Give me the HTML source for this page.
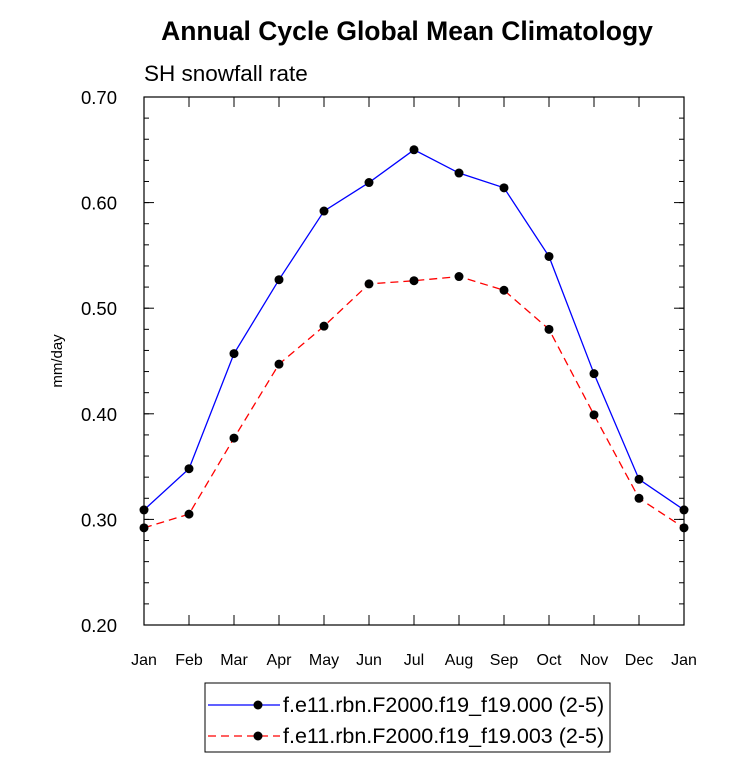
<!DOCTYPE html>
<html><head><meta charset="utf-8"><style>
body{margin:0;background:#fff;}
svg{display:block;font-family:"Liberation Sans",Helvetica,Arial,sans-serif;}
</style></head><body>
<svg id="chart" width="733" height="777" viewBox="0 0 733 777">
<text x="407" y="40" text-anchor="middle" font-size="26.5" font-weight="bold">Annual Cycle Global Mean Climatology</text>
<text x="144" y="81" font-size="22.5">SH snowfall rate</text>
<text transform="translate(62,361) rotate(-90)" text-anchor="middle" font-size="15">mm/day</text>
<g id="axes"></g>
<g id="series"></g>
<g>
<rect x="205" y="683" width="405" height="69" fill="#fff" stroke="#000" stroke-width="1"/>
<g>
<line x1="208" y1="705" x2="280" y2="705" stroke="#0000ff" stroke-width="1.3"/>
<circle cx="258" cy="705" r="4.5" fill="#000"/>
<text x="283" y="712" font-size="21.5">f.e11.rbn.F2000.f19_f19.000 (2-5)</text>
</g>
<g>
<line x1="208" y1="736" x2="280" y2="736" stroke="#ff0000" stroke-width="1.3" stroke-dasharray="8,5"/>
<circle cx="258" cy="736" r="4.5" fill="#000"/>
<text x="283" y="743" font-size="21.5">f.e11.rbn.F2000.f19_f19.003 (2-5)</text>
</g>
</g>
</svg>
<script>
const months = ["Jan","Feb","Mar","Apr","May","Jun","Jul","Aug","Sep","Oct","Nov","Dec","Jan"];
const series000 = [0.309,0.348,0.457,0.527,0.592,0.619,0.650,0.628,0.614,0.549,0.438,0.338,0.309];
const series003 = [0.292,0.305,0.377,0.447,0.483,0.523,0.526,0.530,0.517,0.480,0.399,0.320,0.292];
const yTicks = [0.20,0.30,0.40,0.50,0.60,0.70];
const yTickLabels = ["0.20","0.30","0.40","0.50","0.60","0.70"];

const NS="http://www.w3.org/2000/svg";
const L=144,R=684,T=97,B=625,ymin=0.2,ymax=0.7;
const xs=i=>L+(R-L)*i/(months.length-1);
const ys=v=>B-(v-ymin)/(ymax-ymin)*(B-T);
function mk(tag,attrs,parent){const e=document.createElementNS(NS,tag);for(const k in attrs)e.setAttribute(k,attrs[k]);parent.appendChild(e);return e;}
const ax=document.getElementById('axes');
const frame=mk('rect',{x:L,y:T,width:R-L,height:B-T,fill:'none',stroke:'#000','stroke-width':1.2},ax);


for(let v=ymin;v<=ymax+1e-9;v+=0.02){
  const y=ys(v);
  mk('line',{x1:L,y1:y,x2:L+5,y2:y,stroke:'#000'},ax);
  mk('line',{x1:R,y1:y,x2:R-5,y2:y,stroke:'#000'},ax);
}
yTicks.forEach((v,i)=>{
  const y=ys(v);
  mk('line',{x1:L,y1:y,x2:L+10,y2:y,stroke:'#000'},ax);
  mk('line',{x1:R,y1:y,x2:R-10,y2:y,stroke:'#000'},ax);
  const t=mk('text',{x:L-27,y:y+7,'text-anchor':'end','font-size':18.5},ax);
  t.textContent=yTickLabels[i];
  
  
});
months.forEach((m,i)=>{
  const x=xs(i);
  mk('line',{x1:x,y1:B,x2:x,y2:B-10,stroke:'#000'},ax);
  mk('line',{x1:x,y1:T,x2:x,y2:T+10,stroke:'#000'},ax);
  const t=mk('text',{x:x,y:B+40,'text-anchor':'middle','font-size':16},ax);
  t.textContent=m;
  
  
});
const sg=document.getElementById('series');
function draw(vals,color,dash,name){
  const g=mk('g',{},sg);
  
  
  const p=mk('polyline',{points:vals.map((v,i)=>xs(i)+','+ys(v)).join(' '),fill:'none',stroke:color,'stroke-width':1.3},g);
  if(dash)p.setAttribute('stroke-dasharray',dash);
  vals.forEach((v,i)=>{
    const c=mk('circle',{cx:xs(i),cy:ys(v),r:4.5,fill:'#000'},g);
    
    
  });
}
draw(series000,'#0000ff',null,'series-000');
draw(series003,'#ff0000','8,5','series-003');
</script>
</body></html>
